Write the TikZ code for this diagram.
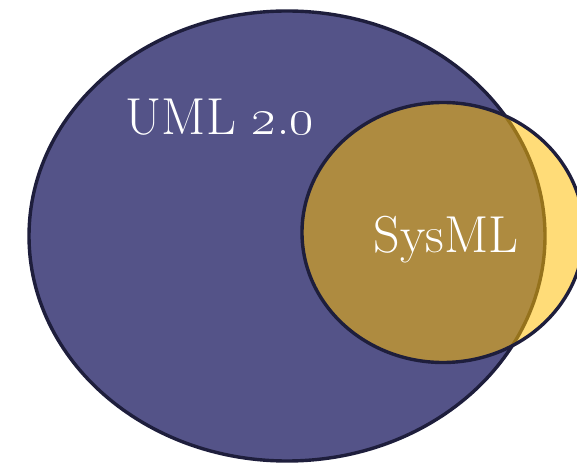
\documentclass[tikz,border=0pt]{standalone}
\usepackage{fix-cm}
\usepackage{tikz}
\usetikzlibrary{positioning}
\definecolor{umlfill}{HTML}{545388}
\definecolor{rimline}{HTML}{1E1E3C}
\definecolor{sysfill}{HTML}{FFBD00}

\begin{document}
\begin{tikzpicture}[
    x=1pt, y=1pt,
    setshape/.style={draw=rimline, line width=3.4pt, fill=#1},
    setshape/.default=white,
    setlabel/.style={text=white, anchor=base, inner sep=0pt, font=\fontsize{52}{52}\selectfont},
]
\useasboundingbox (0,0) rectangle (577,463);

% UML 2.0 superset
\draw[setshape=umlfill] (287,227) ellipse [x radius=258, y radius=225];

% SysML profile (partly outside)
\draw[setshape=sysfill, fill opacity=0.53] (443,230.5) ellipse [x radius=141, y radius=130];

% Labels
\node[setlabel] (uml) at (220,328) {UML \oldstylenums{2.0}};
\node[setlabel] (sysml) at (446,210) {SysML};

\end{tikzpicture}
\end{document}
